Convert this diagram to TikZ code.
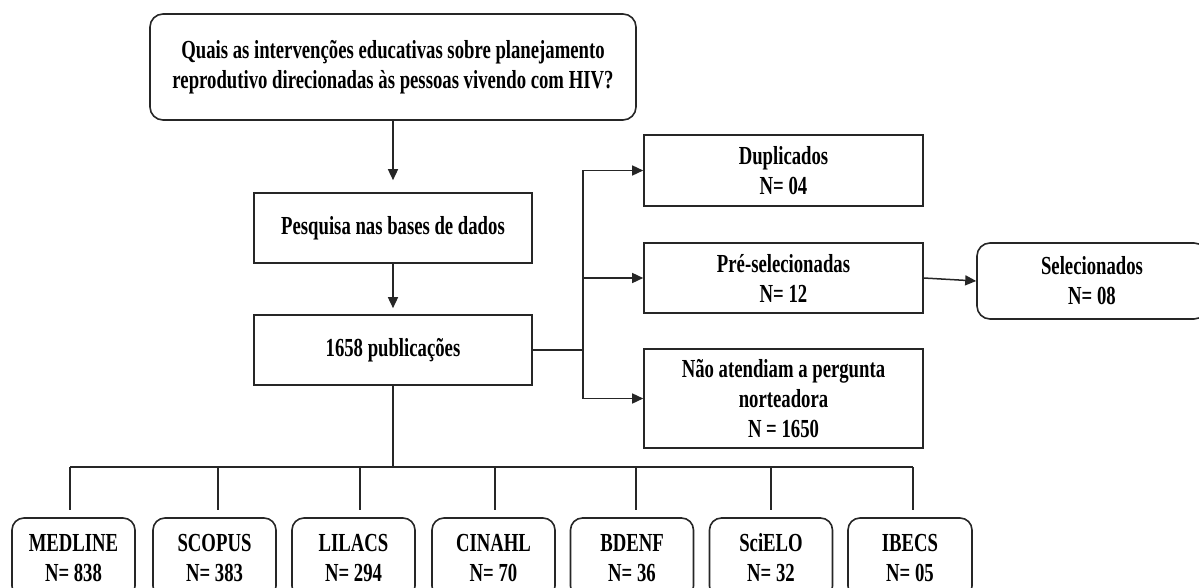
\documentclass[tikz,border=0pt]{standalone}
\usepackage{fontspec}
\setmainfont{Liberation Serif}[FakeStretch=0.72]
\usetikzlibrary{arrows.meta}
\newcommand{\boxfnt}{\fontsize{26}{30}\selectfont\bfseries}
\tikzset{
  base/.style={draw=black!85, line width=1.6pt, font=\boxfnt, align=center, inner sep=0pt, text=black},
  sqbox/.style={base},
  rbox/.style={base, rounded corners=13pt},
  conn/.style={draw=black!85, line width=1.5pt},
  arr/.style={conn, -{Triangle[length=11pt,width=10pt]}},
}
\begin{document}
\begin{tikzpicture}[x=1pt,y=-1pt]
\useasboundingbox (0,0) rectangle (1199,588);
% main column
\node[rbox, minimum width=486pt, minimum height=106pt] (q) at (393,67)
  {Quais as intervenções educativas sobre planejamento\\reprodutivo direcionadas às pessoas vivendo com HIV?};
\node[sqbox, minimum width=278pt, minimum height=70pt] (pesq) at (393,228) {Pesquisa nas bases de dados};
\node[sqbox, minimum width=278pt, minimum height=70pt] (pub) at (393,350) {1658 publicações};
\draw[arr, shorten >=12pt] (q.south) -- (pesq.north);
\draw[arr, shorten >=6pt] (pesq.south) -- (pub.north);
% right fan
\node[sqbox, minimum width=279pt, minimum height=71pt] (dup) at (783.5,170.5) {Duplicados\\N= 04};
\node[sqbox, minimum width=279pt, minimum height=70pt] (pre) at (783.5,278) {Pré-selecionadas\\N= 12};
\node[sqbox, minimum width=279pt, minimum height=99pt] (nao) at (783.5,398.5) {Não atendiam a pergunta\\norteadora\\N = 1650};
\node[rbox, minimum width=230pt, minimum height=76pt] (sel) at (1092,281) {Selecionados\\N= 08};
\coordinate (fan) at (583,350);
\draw[conn] (pub.east) -- (fan);
\draw[arr] (fan) |- (dup.west);
\draw[arr] (fan) |- (pre.west);
\draw[arr] (fan) |- (nao.west);
\draw[arr] (pre.east) -- (sel.west);
% bottom databases
\node[rbox, minimum width=123pt, minimum height=80pt, rounded corners=12pt] (m1) at (73.5,558) {MEDLINE\\N= 838};
\node[rbox, minimum width=123pt, minimum height=80pt, rounded corners=12pt] (m2) at (214.5,558) {SCOPUS\\N= 383};
\node[rbox, minimum width=123pt, minimum height=80pt, rounded corners=12pt] (m3) at (353.5,558) {LILACS\\N= 294};
\node[rbox, minimum width=123pt, minimum height=80pt, rounded corners=12pt] (m4) at (493.5,558) {CINAHL\\N= 70};
\node[rbox, minimum width=123pt, minimum height=80pt, rounded corners=12pt] (m5) at (632,558) {BDENF\\N= 36};
\node[rbox, minimum width=123pt, minimum height=80pt, rounded corners=12pt] (m6) at (771,558) {SciELO\\N= 32};
\node[rbox, minimum width=124pt, minimum height=80pt, rounded corners=12pt] (m7) at (910,558) {IBECS\\N= 05};
\coordinate (bus) at (393,467);
\coordinate (d1) at (70,467);
\coordinate (d2) at (218,467);
\coordinate (d3) at (360,467);
\coordinate (d4) at (495,467);
\coordinate (d5) at (636,467);
\coordinate (d6) at (771,467);
\coordinate (d7) at (913,467);
\draw[conn] (pub.south) -- (bus);
\draw[conn] (d1) -- (d7);
\foreach \i in {1,...,7} {
  \draw[conn, shorten >=7pt] (d\i) -- (d\i |- m\i.north);
}
\end{tikzpicture}
\end{document}
